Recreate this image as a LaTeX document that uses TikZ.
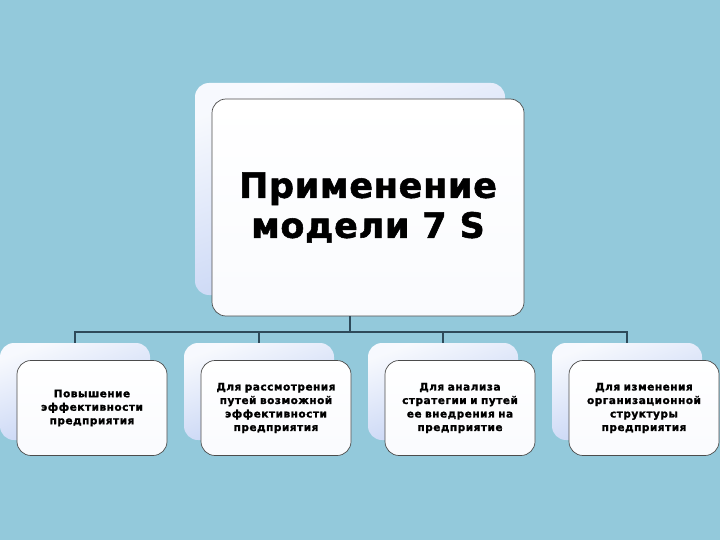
\documentclass[tikz,border=0pt]{standalone}
\usepackage{fontspec}
\setmainfont{Liberation Sans}
\newfontfamily\heavyfont{DejaVu Sans}[LetterSpace=5, BoldFeatures={FakeBold=1.5}]
\newfontfamily\titlefont{DejaVu Sans}[LetterSpace=2, BoldFeatures={FakeBold=1.5}]
\usetikzlibrary{shapes.geometric, arrows}
\definecolor{sky}{HTML}{93C9DB}
\definecolor{cardblue}{HTML}{AEC2F0}
\definecolor{linkgray}{HTML}{2E4A5A}
\tikzstyle{back_card} = [rectangle, rounded corners=14pt, inner sep=0pt, outer sep=0pt, top color=white!90!cardblue, bottom color=cardblue!80!white, shading angle=20]
\tikzstyle{front_card} = [rectangle, rounded corners=14pt, inner sep=0pt, outer sep=0pt, draw=black!70, line width=0.7pt, top color=white, bottom color=white!93!cardblue, text centered]
\tikzstyle{small_text} = [font=\heavyfont\fontsize{10.5}{13.5}\selectfont\bfseries, text width=145pt, align=center]
\tikzstyle{link} = [draw=linkgray, line width=1.3pt]

\begin{document}
\begin{tikzpicture}[x=1pt, y=-1pt]
\useasboundingbox[fill=sky] (0,0) rectangle (720,540);
% main card
\node (mback) [back_card, minimum width=310pt, minimum height=212pt] at (350,189) {};
\node (mfront) [front_card, minimum width=312pt, minimum height=217pt, font=\titlefont\fontsize{35}{40}\selectfont\bfseries, align=center] at (368,207.5) {Применение\\модели 7 S};
\coordinate (bus) at (350,332);
% \coordinate (bus) at (mback.south |- 0,332);
\foreach \k/\txt in {1/{Повышение\\эффективности\\предприятия},
                     2/{Для рассмотрения\\путей возможной\\эффективности\\предприятия},
                     3/{Для анализа\\стратегии и путей\\ее внедрения на\\предприятие},
                     4/{Для изменения\\организационной\\структуры\\предприятия}}
{
    \node (back\k) [back_card, minimum width=150pt, minimum height=97pt] at ({75+184*(\k-1)},391.5) {};
    \draw[link] (mback.south |- mfront.south) -- (bus) -| (back\k.north);
    \node (front\k) [front_card, minimum width=150pt, minimum height=95pt, small_text] at ({92+184*(\k-1)},408) {\txt};
}
\end{tikzpicture}
\end{document}
